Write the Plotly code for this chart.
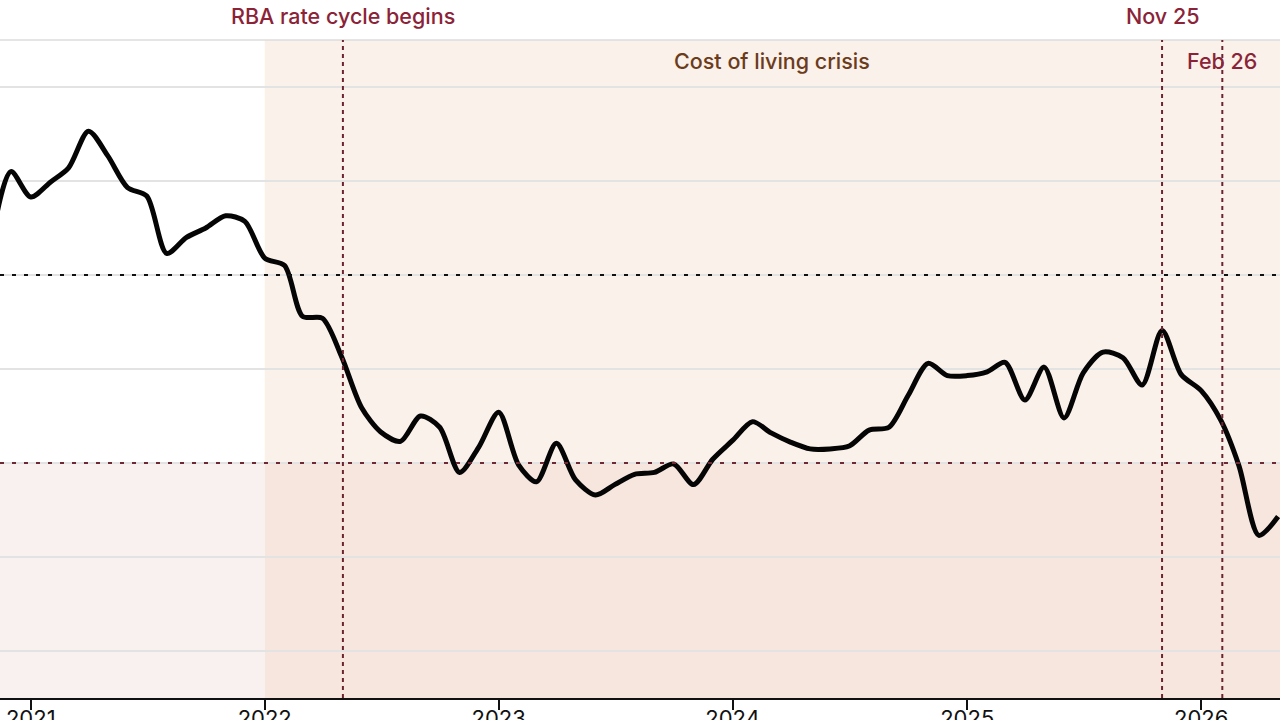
import plotly.graph_objects as go

# ---- data (monthly index readings) ----
start_year, start_month = 2020, 11
values = [
    103.7, 111.0,                                                      # Nov-Dec 2020
    108.3, 109.9, 111.4, 115.3, 112.7, 109.3, 108.4, 102.3, 104.0, 105.0, 106.3, 105.7,  # 2021
    101.8, 101.0, 95.6, 95.4, 91.3, 85.9, 83.3, 82.3, 85.0, 83.8, 79.0, 81.7,            # 2022
    85.4, 79.8, 78.0, 82.1, 78.2, 76.6, 77.7, 78.8, 79.0, 79.9, 77.7, 80.4,              # 2023
    82.4, 84.4, 83.2, 82.2, 81.5, 81.5, 81.8, 83.5, 83.8, 87.2, 90.6, 89.3,              # 2024
    89.3, 89.7, 90.7, 86.7, 90.2, 84.8, 89.6, 91.8, 91.2, 88.3, 94.1, 89.4,              # 2025
    87.7, 84.5, 79.7, 72.3, 74.3,                                                         # 2026
]
dates = []
y, m = start_year, start_month
for _ in values:
    dates.append(f"{y:04d}-{m:02d}-01")
    m += 1
    if m > 12:
        m, y = 1, y + 1

tick_dates = ["2021-01-01", "2022-01-01", "2023-01-01", "2024-01-01", "2025-01-01", "2026-01-01"]
tick_labels = ["2021", "2022", "2023", "2024", "2025", "2026"]

crisis_start = "2022-01-01"
crisis_label = "Cost of living crisis"
crisis_label_x = "2024-03-03"
event_dates = ["2022-05-03", "2025-11-01", "2026-02-03"]
event_labels = ["RBA rate cycle begins", "Nov 25", "Feb 26"]
neutral_level = 100
pessimism_level = 80

x_range = ["2020-11-14", "2026-05-04"]
y_range = [55, 125]

RED = "#8b2338"
BROWN = "#6b3c1c"
FONT = "Inter"
FSIZE = 21.5

fig = go.Figure()
fig.add_trace(go.Scatter(
    x=dates, y=values, mode="lines",
    line=dict(color="#050505", width=5, shape="spline", smoothing=0.8),
    hoverinfo="skip", showlegend=False,
))

shapes = []
# shaded regions
shapes.append(dict(type="rect", xref="x", yref="y", x0=crisis_start, x1=x_range[1],
                   y0=pessimism_level, y1=y_range[1], fillcolor="#faf1ea", line_width=0, layer="below"))
shapes.append(dict(type="rect", xref="x", yref="y", x0=x_range[0], x1=crisis_start,
                   y0=y_range[0], y1=pessimism_level, fillcolor="#f9f1ef", line_width=0, layer="below"))
shapes.append(dict(type="rect", xref="x", yref="y", x0=crisis_start, x1=x_range[1],
                   y0=y_range[0], y1=pessimism_level, fillcolor="#f6e6de", line_width=0, layer="below"))
# top border
shapes.append(dict(type="line", xref="paper", yref="paper", x0=0, x1=1, y0=1, y1=1,
                   line=dict(color="#dcdcdc", width=1.5)))
# horizontal reference lines
shapes.append(dict(type="line", xref="paper", yref="y", x0=0, x1=1, y0=neutral_level, y1=neutral_level,
                   line=dict(color="#111111", width=2, dash="4px,8px")))
shapes.append(dict(type="line", xref="paper", yref="y", x0=0, x1=1, y0=pessimism_level, y1=pessimism_level,
                   line=dict(color="#6d2a34", width=2, dash="4px,8px")))
# vertical event lines
for d in event_dates:
    shapes.append(dict(type="line", xref="x", yref="paper", x0=d, x1=d, y0=0, y1=1,
                       line=dict(color="#6b2330", width=2, dash="4px,4px")))

plot_h = 720 - 40 - 22
annotations = []
for d, lab, off in zip(event_dates, event_labels, [24, 24, -21]):
    annotations.append(dict(x=d, y=1 + off / plot_h, xref="x", yref="paper", text=lab,
                            showarrow=False, xanchor="center", yanchor="middle",
                            font=dict(family=FONT, size=FSIZE, color=RED, weight=500)))
annotations.append(dict(x=crisis_label_x, y=1 - 21 / plot_h, xref="x", yref="paper", text=crisis_label,
                        showarrow=False, xanchor="center", yanchor="middle",
                        font=dict(family=FONT, size=FSIZE, color=BROWN, weight=500)))

fig.update_layout(
    width=1280, height=720,
    margin=dict(l=0, r=0, t=40, b=22, autoexpand=False),
    paper_bgcolor="white", plot_bgcolor="white",
    shapes=shapes, annotations=annotations,
    showlegend=False,
    xaxis=dict(type="date", range=x_range, tickvals=tick_dates, ticktext=tick_labels,
               ticks="outside", ticklen=10, tickwidth=2, tickcolor="#111111",
               showline=True, linecolor="#111111", linewidth=2, showgrid=False, zeroline=False,
               automargin=False, ticklabelstandoff=-10,
               tickfont=dict(family=FONT, size=22, color="#111111")),
    yaxis=dict(range=y_range, tick0=60, dtick=10, showgrid=True, gridcolor="#e3e3e3", gridwidth=1.5,
               showticklabels=False, zeroline=False, showline=False, ticks="", automargin=False),
)

fig.write_html("out.html")
